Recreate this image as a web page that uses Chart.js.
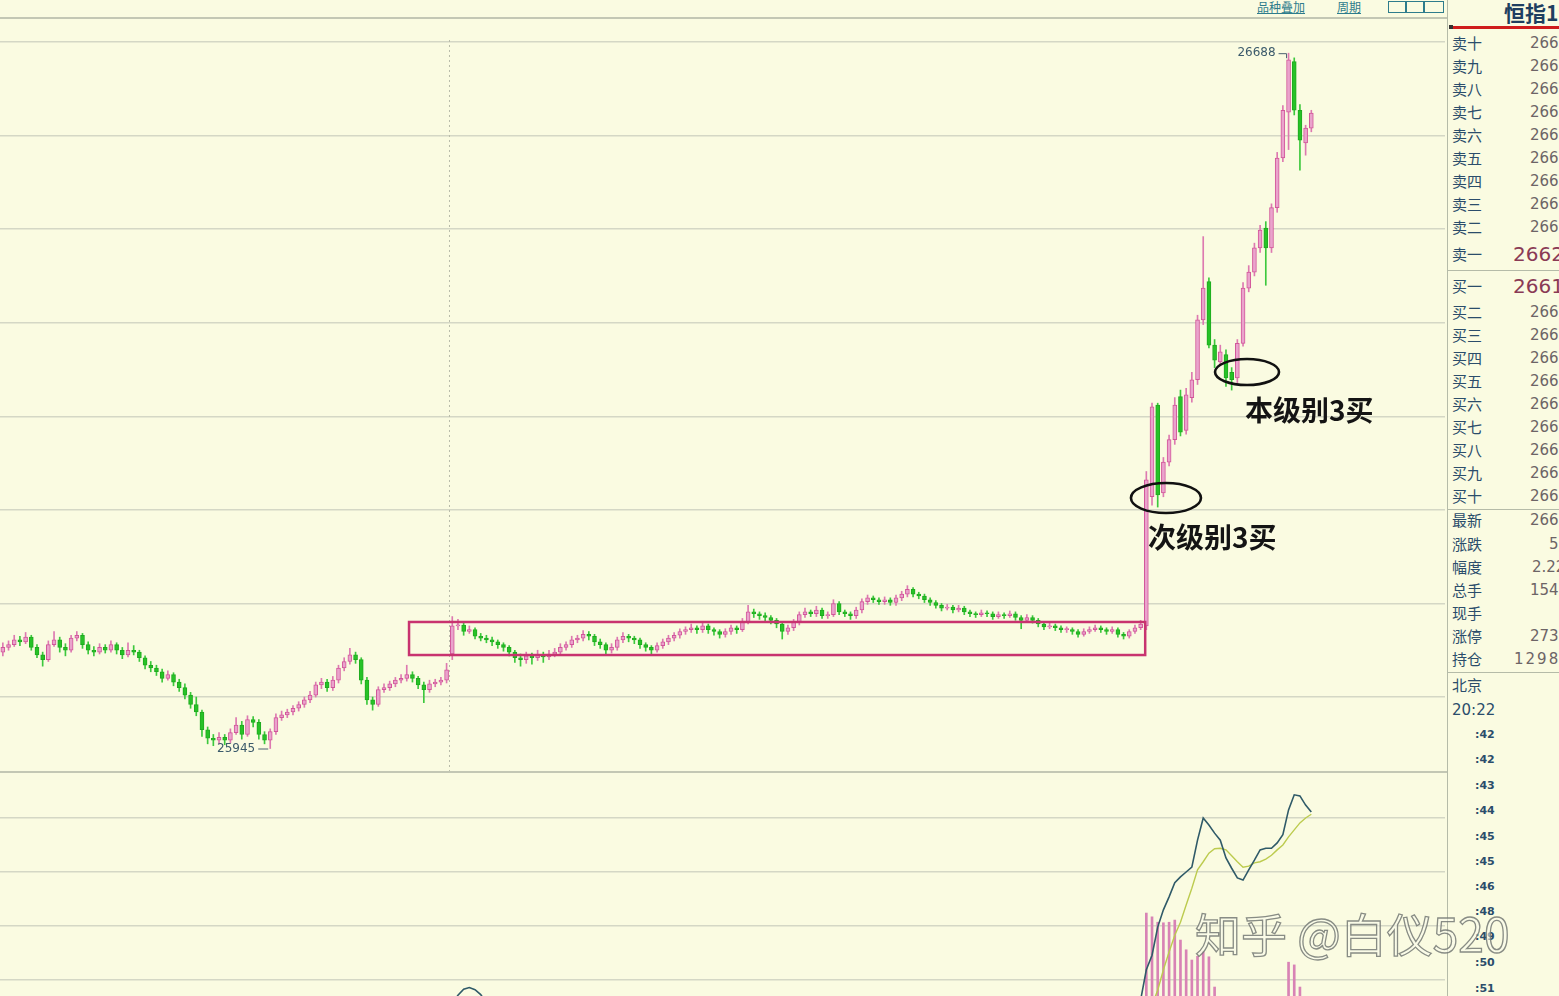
<!DOCTYPE html>
<html><head><meta charset="utf-8">
<script src="https://cdn.jsdelivr.net/npm/chart.js@4.4.0/dist/chart.umd.min.js"></script>
<style>
html,body{margin:0;padding:0;width:1559px;height:996px;overflow:hidden;background:#fafbe1;}
body{position:relative;font-family:"Noto Sans CJK SC","Noto Sans",sans-serif;}
canvas{position:absolute;left:0;}
#c1{top:18px;}
#c2{top:772px;}
.hl{position:absolute;left:0;height:2px;background:#c3c7b4;}
#side{position:absolute;left:1447px;top:0;width:112px;height:996px;border-left:1px solid #b5bba8;overflow:hidden;}
.lab{position:absolute;left:4px;font-size:15px;line-height:18px;color:#2b4d6b;white-space:nowrap;}
.val{position:absolute;font-size:15px;line-height:18px;color:#6d6466;white-space:nowrap;font-family:"DejaVu Sans",sans-serif;}
.big{font-size:20px;line-height:24px;color:#8a3a55;}
.sep{position:absolute;left:0;width:112px;height:1px;background:#b5bba8;}
.tm{position:absolute;left:27px;font-size:11px;color:#2b4d6b;font-family:"DejaVu Sans",sans-serif;font-weight:bold;}
.tool{position:absolute;top:0;font-size:12px;line-height:14px;color:#2e7c8c;text-decoration:underline;}
.box{position:absolute;top:1px;width:16px;height:10px;border:1px solid #2e7c8c;}
#wm{position:absolute;left:1195px;top:902px;font-size:46px;line-height:60px;white-space:nowrap;color:rgba(250,251,236,0.55);-webkit-text-stroke:1.3px rgba(115,120,115,0.85);font-family:"Noto Sans CJK SC",sans-serif;font-weight:400;}
</style>
</head><body>
<canvas id="c1" width="1445" height="754"></canvas>
<canvas id="c2" width="1445" height="224"></canvas>
<div class="hl" style="top:17px;width:1447px;"></div>
<div class="hl" style="top:771px;width:1447px;"></div>
<div class="tool" style="left:1257px;">品种叠加</div>
<div class="tool" style="left:1337px;">周期</div>
<div class="box" style="left:1388px;"></div>
<div class="box" style="left:1406px;"></div>
<div class="box" style="left:1424px;width:18px;"></div>
<div id="side"></div>
<div id="wm">知乎 @白仪520</div>
<script>
// ---------- price data (candles) ----------
const open = [
26048,26053,26056,26061,26059,26064,26053,26045,26040,26056,
26061,26053,26050,26063,26066,26056,26050,26048,26053,26050,
26056,26050,26045,26050,26048,26042,26034,26031,26027,26020,
26024,26016,26010,26002,25992,25984,25965,25956,25954,25957,
25954,25962,25970,25960,25976,25973,25960,25954,25963,25978,
25981,25984,25988,25992,25997,26002,26013,26016,26010,26018,
26031,26038,26045,26040,26018,25997,25992,26008,26010,26014,
26018,26020,26024,26020,26013,26008,26014,26016,26018,
26046,26076,26077,26070,26072,26065,26063,26061,26059,26056,
26053,26048,26042,26040,26044,26042,26045,26043,26046,26048,
26053,26056,26061,26063,26067,26065,26059,26056,26050,26053,
26061,26065,26063,26061,26056,26053,26050,26055,26059,26063,
26066,26070,26072,26074,26072,26076,26072,26070,26067,26070,
26074,26072,26080,26091,26089,26087,26085,26082,26078,26070,
26074,26080,26088,26091,26089,26093,26087,26088,26100,26091,
26089,26087,26093,26102,26106,26104,26102,26104,26101,26106,
26110,26115,26110,26108,26104,26101,26098,26095,26096,26093,
26095,26091,26089,26088,26090,26089,26086,26088,26087,26089,
26085,26082,26085,26082,26078,26075,26076,26074,26072,26072,
26070,26067,26070,26072,26074,26072,26070,26072,26067,26065,
26070,26074,
26076,26214,26312,26218,26251,26275,26321,26285,26320,26339,
26403,26444,26376,26358,26366,26347,26341,26378,26437,26454,
26480,26501,26480,26523,26576,26625,26679,26627,26592,26608];
const high = [
26058,26060,26066,26065,26069,26066,26056,26048,26060,26070,
26064,26057,26066,26070,26068,26059,26054,26057,26056,26060,
26058,26053,26058,26055,26050,26044,26038,26034,26030,26028,
26026,26019,26014,26005,26000,25986,25968,25960,25962,25960,
25966,25978,25974,25980,25979,25976,25963,25966,25982,25985,
25987,25991,25995,26000,26006,26016,26020,26019,26022,26034,
26042,26052,26048,26042,26021,26000,26011,26014,26017,26021,
26024,26034,26027,26022,26016,26018,26019,26021,26036,
26086,26083,26079,26076,26074,26068,26066,26064,26061,26058,
26055,26050,26046,26048,26047,26050,26048,26050,26052,26057,
26059,26065,26066,26071,26070,26067,26062,26058,26057,26064,
26069,26067,26065,26063,26058,26055,26058,26062,26066,26069,
26073,26075,26078,26076,26080,26078,26074,26072,26073,26077,
26076,26084,26098,26094,26091,26090,26087,26084,26080,26077,
26083,26091,26095,26093,26097,26095,26091,26104,26102,26093,
26091,26096,26105,26109,26108,26106,26107,26106,26109,26113,
26119,26117,26112,26110,26106,26103,26100,26099,26098,26098,
26097,26093,26091,26093,26092,26091,26091,26090,26092,26091,
26087,26088,26087,26084,26080,26079,26078,26076,26075,26074,
26072,26073,26075,26077,26076,26074,26075,26074,26069,26072,
26077,26082,
26241,26314,26314,26256,26280,26320,26328,26330,26347,26408,
26492,26448,26382,26376,26371,26352,26382,26443,26461,26485,
26504,26508,26527,26582,26632,26688,26683,26633,26611,26627];
const low = [
26044,26050,26054,26055,26057,26050,26042,26033,26038,26054,
26048,26044,26048,26060,26052,26046,26044,26046,26047,26048,
26046,26041,26043,26045,26038,26030,26027,26023,26016,26018,
26012,26006,25998,25988,25980,25958,25950,25948,25950,25949,
25951,25960,25955,25958,25968,25955,25950,25945,25960,25975,
25978,25981,25985,25989,25994,26000,26009,26006,26007,26015,
26028,26035,26036,26014,25992,25986,25990,26005,26007,26011,
26015,26017,26016,26009,25994,26005,26011,26013,26015,
26040,26072,26066,26068,26062,26060,26058,26055,26052,26049,
26044,26037,26033,26036,26035,26039,26037,26040,26043,26045,
26050,26053,26058,26060,26061,26055,26052,26045,26047,26050,
26058,26059,26057,26052,26049,26046,26048,26052,26056,26060,
26063,26067,26069,26068,26069,26068,26066,26063,26064,26067,
26068,26070,26078,26085,26083,26081,26078,26074,26062,26067,
26071,26077,26085,26086,26086,26084,26084,26086,26088,26086,
26083,26084,26090,26099,26101,26099,26099,26098,26098,26103,
26107,26107,26105,26101,26098,26095,26092,26093,26090,26091,
26088,26086,26085,26086,26086,26083,26084,26084,26085,26082,
26073,26080,26079,26075,26072,26073,26071,26069,26069,26067,
26064,26065,26068,26070,26069,26067,26068,26064,26062,26063,
26068,26072,
26072,26205,26203,26214,26247,26270,26279,26281,26315,26334,
26398,26373,26352,26354,26332,26328,26336,26375,26433,26450,
26475,26440,26475,26518,26572,26585,26622,26563,26579,26604];
const close = [
26053,26056,26061,26059,26064,26053,26045,26040,26056,26061,
26053,26050,26063,26066,26056,26050,26048,26053,26050,26056,
26050,26045,26050,26048,26042,26034,26031,26027,26020,26024,
26016,26010,26002,25992,25984,25965,25956,25954,25957,25954,
25962,25970,25960,25976,25973,25960,25954,25963,25978,25981,
25984,25988,25992,25997,26002,26013,26016,26010,26018,26031,
26038,26045,26040,26018,25997,25992,26008,26010,26014,26018,
26020,26024,26020,26013,26008,26014,26016,26018,26029,
26076,26077,26070,26072,26065,26063,26061,26059,26056,26053,
26048,26042,26040,26044,26042,26045,26043,26046,26048,26053,
26056,26061,26063,26067,26065,26059,26056,26050,26053,26061,
26065,26063,26061,26056,26053,26050,26055,26059,26063,26066,
26070,26072,26074,26072,26076,26072,26070,26067,26070,26074,
26072,26080,26091,26089,26087,26085,26082,26078,26070,26074,
26080,26088,26091,26089,26093,26087,26088,26100,26091,26089,
26087,26093,26102,26106,26104,26102,26104,26101,26106,26110,
26115,26110,26108,26104,26101,26098,26095,26096,26093,26095,
26091,26089,26088,26090,26089,26086,26088,26087,26089,26085,
26082,26085,26082,26078,26075,26076,26074,26072,26072,26070,
26067,26070,26072,26074,26072,26070,26072,26067,26065,26070,
26074,26078,
26232,26310,26216,26251,26275,26312,26283,26323,26339,26403,
26437,26376,26360,26369,26341,26339,26378,26437,26454,26480,
26499,26480,26523,26576,26627,26681,26627,26595,26608,26624];

// price grid lines and range
const priceGrid = [26000,26100,26200,26300,26400,26500,26600,26700];
const priceMin = 25919.9, priceMax = 26725.6;
const slotCount = 254;          // time slots on the axis (candles + empty space)
const sessionBreak = 78.5;      // dotted divider between sessions

// ---------- MACD data ----------
const macdIdx = [78,79,80,81,82,83,84,85,86,87,
  198,199,200,201,202,203,204,205,206,207,208,209,210,211,212,213,214,215,216,217,218,219,220,221,222,223,224,225,226,227,228,229,230];
const dif = [3.0,5.5,7.2,8.3,8.6,8.2,7.3,5.8,3.8,1.5,
  1.5,3.0,6.3,11.9,14.6,19.8,23.0,25.4,28.0,29.1,30.0,30.9,35.9,40.0,38.7,37.2,35.9,32.6,30.7,28.9,28.5,30.4,32.2,34.1,34.4,34.4,35.4,36.9,41.5,44.3,44.1,42.4,41.1];
const dea = [null,null,null,null,null,null,null,null,null,null,
  -1.0,0.0,1.0,2.6,5.4,8.1,11.9,15.2,18.3,20.7,23.9,27.0,30.4,31.9,33.5,34.3,34.4,34.1,33.0,31.9,30.9,31.1,31.7,31.9,32.4,33.1,34.1,35.0,36.5,37.8,39.1,40.0,40.7];
const hist = [null,null,null,null,null,null,null,null,null,null,
  null,null,null,22.4,21.7,20.7,20.6,20.7,21.1,17.4,15.6,13.7,14.4,15.2,14.3,8.7,6.3,null,null,null,null,null,null,null,null,null,null,null,13.3,12.8,8.7,null,null];
const macdGrid = [10,20,30,40];
const macdMin = 7.04, macdMax = 48.52;

// ---------- annotations (data coordinates) ----------
const zoneBox = {x0:71.4, x1:200.8, top:26080.2, bottom:26044.9};
const marks = [
  {label:'次级别3买', x:204.45, y:26212.7},
  {label:'本级别3买', x:218.7, y:26347.3}
];

// ---------- side panel ----------
const bookLabels = ['卖十','卖九','卖八','卖七','卖六','卖五','卖四','卖三','卖二','卖一',
                    '买一','买二','买三','买四','买五','买六','买七','买八','买九','买十',
                    '最新','涨跌','幅度','总手','现手','涨停','持仓'];
const bookValues = ['26633','26632','26631','26630','26629','26628','26627','26626','26625','26624',
                    '26619','26618','26617','26616','26615','26614','26613','26612','26611','26610',
                    '26624','58','2.22%','15432','','27382','129876'];
const tickTimes = [':42',':42',':43',':44',':45',':45',':46',':48',':49',':50',':51'];

// ===== build side panel =====
(function(){
  const side = document.getElementById('side');
  let h = '<div style="position:absolute;left:56px;top:-3px;font-size:21px;font-weight:bold;color:#1e3f60;white-space:nowrap;">恒指1906</div>';
  h += '<div style="position:absolute;left:2px;top:26px;width:110px;height:3px;background:#cf1c1c;"></div>';
  h += '<div style="position:absolute;left:1px;top:25px;width:4px;height:4px;background:#333;"></div>';
  const ys = [43,66,89,112,135,158,181,204,227,254, 286,312,335,358,381,404,427,450,473,496, 520,544,567,590,613,636,659];
  const vx = {9:65,10:65,21:101,22:84,26:66};
  bookLabels.forEach((l,i)=>{
    const y = ys[i];
    h += `<div class="lab" style="top:${y-9}px">${l}</div>`;
    const big = (i===9||i===10);
    const x = vx[i] !== undefined ? vx[i] : 82;
    const sp = (i===26) ? 'letter-spacing:2px;' : '';
    h += `<div class="val${big?' big':''}" style="left:${x}px;top:${y-(big?12:9)}px;${sp}">${bookValues[i]}</div>`;
  });
  h += '<div class="sep" style="top:270px"></div><div class="sep" style="top:509px"></div><div class="sep" style="top:672px"></div>';
  h += '<div class="lab" style="top:676px">北京</div>';
  h += '<div class="lab" style="top:701px;font-family:DejaVu Sans,sans-serif;font-size:15px;">20:22</div>';
  const ty = [735,760,786,811,837,862,887,912,937,963,989];
  tickTimes.forEach((t,i)=>{ h += `<div class="tm" style="top:${ty[i]-7}px">${t}</div>`; });
  side.innerHTML = h;
})();

// ===== price chart =====
const idx = close.map((_,i)=>i);
const upFill='#eaa3cc', upLine='#d2569a', dnFill='#27c227', dnLine='#1faa1f';
const isUp = idx.map(i=>close[i]>=open[i]);

const overlay = {
  id:'overlay',
  beforeDatasetsDraw(chart){
    const {ctx, scales:{x}, chartArea:a} = chart;
    const sx = Math.round(x.getPixelForValue(sessionBreak))+0.5;
    ctx.save();
    ctx.strokeStyle='#b9bcaa'; ctx.lineWidth=1; ctx.setLineDash([2,3]);
    ctx.beginPath(); ctx.moveTo(sx,22); ctx.lineTo(sx,a.bottom); ctx.stroke();
    ctx.restore();
  },
  afterDatasetsDraw(chart){
    const {ctx, scales:{x,y}} = chart;
    ctx.save();
    // consolidation box
    ctx.strokeStyle='#c8336f'; ctx.lineWidth=2.5;
    const bx0=x.getPixelForValue(zoneBox.x0), bx1=x.getPixelForValue(zoneBox.x1);
    const by0=y.getPixelForValue(zoneBox.top), by1=y.getPixelForValue(zoneBox.bottom);
    ctx.strokeRect(bx0,by0,bx1-bx0,by1-by0);
    // ellipses + labels
    marks.forEach((m,k)=>{
      const cx=x.getPixelForValue(m.x), cy=y.getPixelForValue(m.y);
      ctx.strokeStyle='#111'; ctx.lineWidth=2.6;
      ctx.beginPath(); ctx.ellipse(cx,cy,k===0?35:32,k===0?15:13,0,0,Math.PI*2); ctx.stroke();
      ctx.fillStyle='#141414'; ctx.font='bold 28px "Noto Sans CJK SC"';
      ctx.textBaseline='middle'; ctx.textAlign='left';
      ctx.fillText(m.label, cx+(k===0?-18:-2), cy+(k===0?39:38));
    });
    // extreme labels
    let hi=0, lo=0;
    idx.forEach(i=>{ if(high[i]>high[hi]) hi=i; if(low[i]<low[lo]) lo=i; });
    ctx.font='12px "DejaVu Sans"'; ctx.fillStyle='#3b5a6b'; ctx.strokeStyle='#4a6070'; ctx.lineWidth=1;
    ctx.textAlign='right'; ctx.textBaseline='middle';
    const hx=x.getPixelForValue(hi), hy=y.getPixelForValue(high[hi]);
    ctx.fillText(String(high[hi]), hx-13, hy);
    ctx.beginPath(); ctx.moveTo(hx-10,hy+0.5); ctx.lineTo(hx-2,hy+0.5); ctx.lineTo(hx-2,hy+5); ctx.stroke();
    const lx=x.getPixelForValue(lo), ly=y.getPixelForValue(low[lo]);
    ctx.fillText(String(low[lo]), lx-15, ly);
    ctx.beginPath(); ctx.moveTo(lx-12,ly+0.5); ctx.lineTo(lx-2,ly+0.5); ctx.stroke();
    ctx.restore();
  }
};

new Chart(document.getElementById('c1'), {
  type:'bar',
  data:{datasets:[
    {data: idx.map(i=>({x:i, y:[low[i],high[i]]})), barThickness:1, grouped:false,
     backgroundColor: idx.map(i=>isUp[i]?'#dd79b0':'#3dc83d'), order:2},
    {data: idx.map(i=>({x:i, y:[open[i],close[i]]})), barThickness:4, grouped:false, minBarLength:1,
     backgroundColor: idx.map(i=>isUp[i]?upFill:dnFill), borderColor: idx.map(i=>isUp[i]?upLine:dnLine),
     borderWidth:1, borderSkipped:false, order:1}
  ]},
  options:{
    responsive:false, animation:false, events:[],
    layout:{padding:0},
    plugins:{legend:{display:false}, tooltip:{enabled:false}},
    scales:{
      x:{type:'linear', offset:false, min:-0.5, max:slotCount-0.5, display:false, grid:{offset:false}},
      y:{min:priceMin, max:priceMax, ticks:{display:false}, border:{display:false},
         grid:{color:'#d4d7c5', lineWidth:1.5, drawTicks:false},
         afterBuildTicks:s=>{ s.ticks = priceGrid.map(v=>({value:v})); },
         afterFit:s=>{ s.width=0; }}
    }
  },
  plugins:[overlay]
});

// ===== MACD chart =====
new Chart(document.getElementById('c2'), {
  type:'bar',
  data:{datasets:[
    {type:'line', data: macdIdx.map((i,k)=>({x:i,y:dif[k]})), borderColor:'#2f5a68', borderWidth:1.6, pointRadius:0, tension:0, order:1},
    {type:'line', data: macdIdx.map((i,k)=>({x:i,y:dea[k]})), borderColor:'#bccb4e', borderWidth:1.4, pointRadius:0, tension:0, order:2},
    {type:'bar', data: macdIdx.map((i,k)=>({x:i,y:hist[k]})), backgroundColor:'#d883b5', barThickness:2, order:3}
  ]},
  options:{
    responsive:false, animation:false, events:[],
    layout:{padding:0},
    plugins:{legend:{display:false}, tooltip:{enabled:false}},
    scales:{
      x:{type:'linear', offset:false, min:-0.5, max:slotCount-0.5, display:false, grid:{offset:false}},
      y:{min:macdMin, max:macdMax, ticks:{display:false}, border:{display:false},
         grid:{color:'#d4d7c5', lineWidth:1.5, drawTicks:false},
         afterBuildTicks:s=>{ s.ticks = macdGrid.map(v=>({value:v})); },
         afterFit:s=>{ s.width=0; }}
    }
  }
});
</script>
</body></html>
